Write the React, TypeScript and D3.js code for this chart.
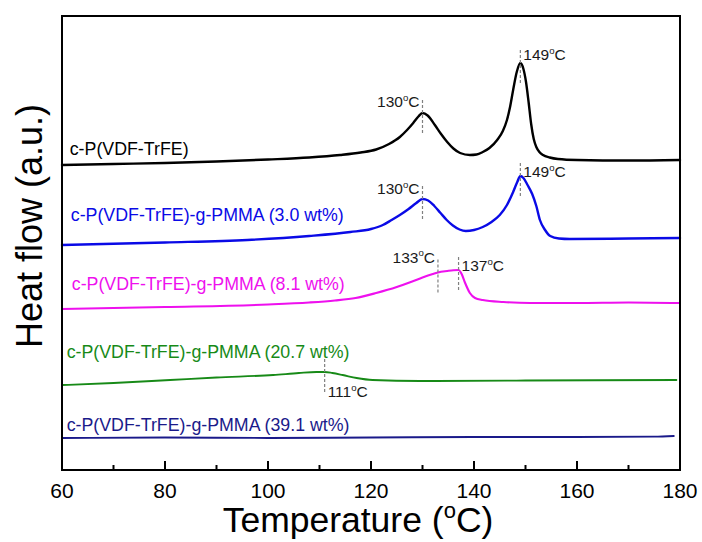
import React from 'react';
import * as d3 from 'd3';

// DSC heating scans: temperature (°C) vs heat flow (a.u., curves stacked with offsets)
const pristine: [number, number][] = [
  [60, 305], [70, 306], [80, 307], [90, 308.5], [100, 310.5], [108, 312.5], [114, 315],
  [118, 317.5], [121, 320.5], [123.5, 326], [125.6, 333], [127, 340], [128.2, 347],
  [129.2, 353.5], [130, 357], [131, 354.5], [132.4, 345], [133.6, 336], [134.8, 328],
  [136, 321.5], [137.3, 317], [139.2, 315], [140.5, 315.5], [141.7, 318], [143, 322],
  [144.5, 330], [145.6, 339], [146.4, 350], [147, 363], [147.6, 380], [148.3, 398],
  [149, 407], [149.6, 401], [150.1, 388], [150.6, 368], [151.1, 346], [151.6, 331],
  [152.1, 323], [152.7, 318], [153.4, 315], [154.7, 312.5], [156.3, 311], [160, 310],
  [170, 309.5], [180, 310],
];
const graft30: [number, number][] = [
  [60, 225], [80, 227.5], [96, 230], [108, 234], [116, 238], [120, 241], [122.3, 245],
  [124, 250], [125.6, 255], [127.3, 261], [128.8, 267], [130, 271], [131.1, 269.5],
  [132.3, 264], [133.5, 257], [134.7, 250], [135.9, 244.5], [137.2, 240.5], [138.4, 239],
  [140, 240], [141.7, 243], [143.4, 248], [145, 255], [146.4, 265], [147.6, 278],
  [148.4, 288], [149, 294], [149.6, 292], [150.4, 285], [151.3, 276], [152.1, 264],
  [152.8, 250], [153.8, 240], [154.8, 234], [156.5, 231.5], [158.6, 231], [170, 231.5],
  [180, 232],
];
const graft81: [number, number][] = [
  [60, 161], [80, 163], [100, 165.5], [108, 167.5], [113, 169.5], [117, 172], [121, 177],
  [125, 183], [128, 188.5], [130, 192.5], [132, 196], [133, 197.5], [134.8, 199],
  [136, 199.8], [137, 200], [137.6, 196], [138.2, 188], [139.2, 177], [140.2, 172],
  [141.7, 170], [145.7, 168], [150.9, 167], [160, 167], [170, 167.5], [180, 167],
];
const graft207: [number, number][] = [
  [60, 85], [70, 87], [81, 90], [90, 92.5], [101, 95], [106, 97], [109.4, 98], [111, 98],
  [112.5, 97], [114.5, 95], [117.2, 92], [120.3, 90], [129.5, 89], [150, 89.5], [179.3, 90],
];
const graft391: [number, number][] = [
  [60, 32], [80, 32.5], [100, 32], [120, 32.5], [140, 33], [160, 33], [175, 33.3], [178.8, 34],
];

const seriesData = [pristine, graft30, graft81, graft207, graft391];
const seriesNames = [
  'c-P(VDF-TrFE)',
  'c-P(VDF-TrFE)-g-PMMA (3.0 wt%)',
  'c-P(VDF-TrFE)-g-PMMA (8.1 wt%)',
  'c-P(VDF-TrFE)-g-PMMA (20.7 wt%)',
  'c-P(VDF-TrFE)-g-PMMA (39.1 wt%)',
];
const seriesColors = ['#000000', '#0a0ae6', '#ee10ee', '#178a17', '#1a1a8a'];
const lineWidths = [2.4, 2.4, 2.1, 1.8, 1.8];

// Peak temperatures marked on each curve
const peakTemps: number[][] = [[130, 149], [130, 149], [133, 137], [111], []];

const xTicks = [60, 80, 100, 120, 140, 160, 180];
const xMinorTicks = [70, 90, 110, 130, 150, 170];

// Layout
const W = 702;
const H = 542;
const PLOT = { left: 62, right: 680, top: 16, bottom: 470 };
const FONT = '"Liberation Sans", Arial, Helvetica, sans-serif';
// anchor (temperature, heat flow) of each curve name
const nameAnchors: [number, number][] = [[61.5, 315], [61.7, 249], [61.9, 180], [60.9, 112], [60.9, 39]];
// side and vertical text offset of each peak note
const peakNoteLayout: { side: 'left' | 'right'; dy: number }[][] = [
  [{ side: 'left', dy: -6 }, { side: 'right', dy: -3 }],
  [{ side: 'left', dy: -5 }, { side: 'right', dy: 1 }],
  [{ side: 'left', dy: -10 }, { side: 'right', dy: 1 }],
  [{ side: 'right', dy: 25 }],
  [],
];

function valueAt(data: [number, number][], t: number): number {
  const i = d3.bisector((d: [number, number]) => d[0]).left(data, t);
  if (i <= 0) return data[0][1];
  if (i >= data.length) return data[data.length - 1][1];
  const [t0, v0] = data[i - 1];
  const [t1, v1] = data[i];
  return v0 + ((v1 - v0) * (t - t0)) / (t1 - t0);
}

function DegC({ size }: { size: number }) {
  const rise = size * 0.4;
  return (
    <>
      <tspan dy={-rise} fontSize={size * 0.62}>o</tspan>
      <tspan dy={rise} fontSize={size}>C</tspan>
    </>
  );
}

export default function App() {
  const x = d3.scaleLinear().domain([60, 180]).range([PLOT.left, PLOT.right]);
  const y = d3.scaleLinear().domain([0, 454]).range([PLOT.bottom, PLOT.top]);
  const line = d3
    .line<[number, number]>()
    .x((d) => x(d[0]))
    .y((d) => y(d[1]))
    .curve(d3.curveMonotoneX);

  const noteSize = 15.5;

  return (
    <svg
      width={W}
      height={H}
      viewBox={`0 0 ${W} ${H}`}
      style={{ position: 'absolute', left: 0, top: 0, display: 'block', background: '#fff' }}
      fontFamily={FONT}
    >
      <rect x={0} y={0} width={W} height={H} fill="#fff" />

      {/* curves */}
      {seriesData.map((data, i) => (
        <path
          key={`c${i}`}
          d={line(data) ?? ''}
          fill="none"
          stroke={seriesColors[i]}
          strokeWidth={lineWidths[i]}
          strokeLinejoin="round"
          strokeLinecap="round"
        />
      ))}

      {/* curve names */}
      {seriesNames.map((name, i) => (
        <text
          key={`n${i}`}
          x={x(nameAnchors[i][0])}
          y={y(nameAnchors[i][1])}
          fontSize={17.8}
          fill={seriesColors[i]}
        >
          {name}
        </text>
      ))}

      {/* peak markers */}
      {peakTemps.map((temps, i) =>
        temps.map((t, j) => {
          const px = x(t);
          const py = y(valueAt(seriesData[i], t));
          const lay = peakNoteLayout[i][j];
          const tx = lay.side === 'left' ? px - 3 : px + 3;
          return (
            <g key={`p${i}-${j}`}>
              <line
                x1={px}
                x2={px}
                y1={py - 13}
                y2={py + 20}
                stroke="#808080"
                strokeWidth={1.2}
                strokeDasharray="3,2"
              />
              <text
                x={tx}
                y={py + lay.dy}
                fontSize={noteSize}
                fill="#1a1a1a"
                textAnchor={lay.side === 'left' ? 'end' : 'start'}
              >
                {String(t)}
                <DegC size={noteSize} />
              </text>
            </g>
          );
        })
      )}

      {/* x ticks, pointing inward */}
      {xTicks.map((t) => (
        <line key={`mt${t}`} x1={x(t)} x2={x(t)} y1={PLOT.bottom} y2={PLOT.bottom - 9} stroke="#000" strokeWidth={2} />
      ))}
      {xMinorTicks.map((t) => (
        <line key={`nt${t}`} x1={x(t)} x2={x(t)} y1={PLOT.bottom} y2={PLOT.bottom - 5} stroke="#000" strokeWidth={2} />
      ))}
      {xTicks.map((t) => (
        <text key={`tl${t}`} x={x(t)} y={PLOT.bottom + 28} fontSize={21} textAnchor="middle" fill="#000">
          {t}
        </text>
      ))}

      {/* frame */}
      <rect
        x={PLOT.left}
        y={PLOT.top}
        width={PLOT.right - PLOT.left}
        height={PLOT.bottom - PLOT.top}
        fill="none"
        stroke="#000"
        strokeWidth={2}
      />

      {/* axis titles */}
      <text x={358} y={532} fontSize={35.5} textAnchor="middle" fill="#000">
        Temperature (
        <DegC size={35.5} />
        )
      </text>
      <text
        transform={`translate(42, 226) rotate(-90)`}
        fontSize={36}
        textAnchor="middle"
        fill="#000"
      >
        Heat flow (a.u.)
      </text>
    </svg>
  );
}
